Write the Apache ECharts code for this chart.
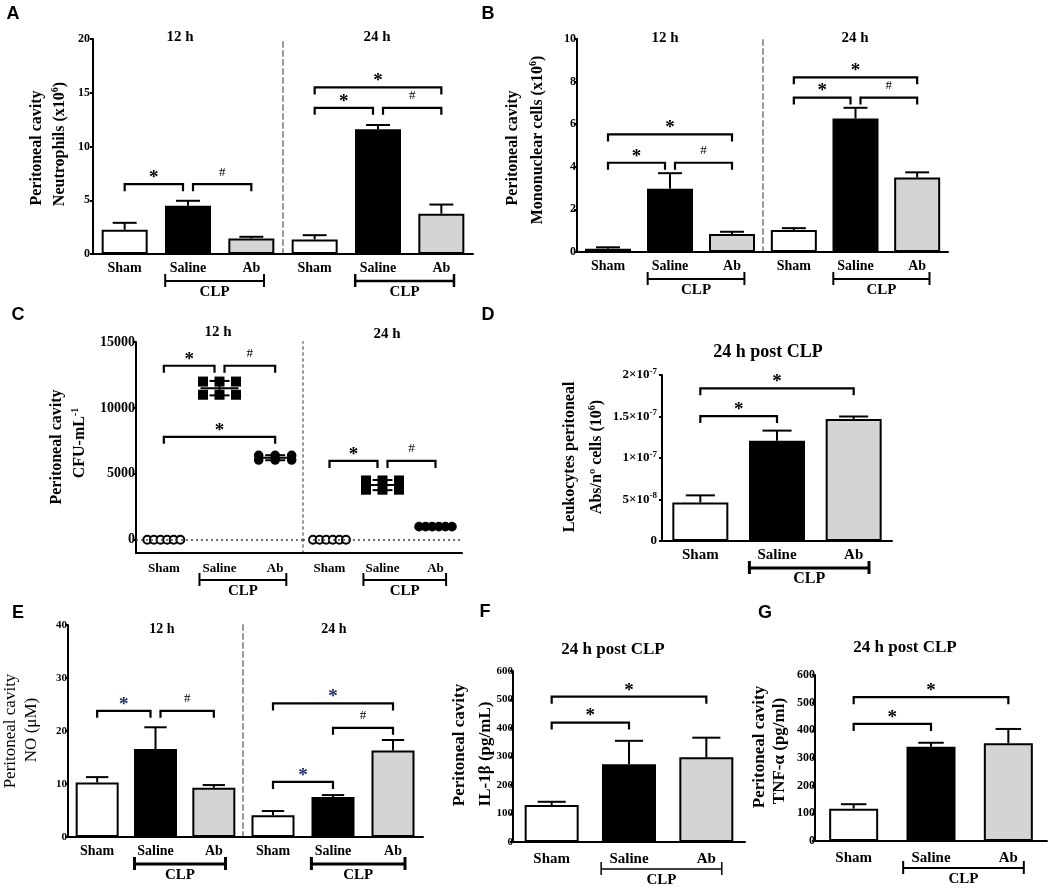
<!DOCTYPE html>
<html><head><meta charset="utf-8">
<script src="https://cdn.jsdelivr.net/npm/echarts@6/dist/echarts.min.js"></script>
<style>html,body{margin:0;padding:0;background:#fff}#c{width:1048px;height:889px}</style>
</head><body><div id="c"></div>
<script>
const SERIF = 'Liberation Serif';
const SANS = 'Liberation Sans';

// ---------- data ----------
const categories = ['Sham', 'Saline', 'Ab'];
const groupLabel = 'CLP';
const timeLabels = ['12 h', '24 h'];
const postTitle = '24 h post CLP';

// A: neutrophils
const neutrophils12Mean = [2.25, 4.5, 1.45];
const neutrophils12Sem = [0.65, 0.45, 0.15];
const neutrophils24Mean = [1.35, 11.6, 3.75];
const neutrophils24Sem = [0.4, 0.4, 0.85];
const neutrophilsAxis = [0, 20, 5];
const neutrophils12Brackets = [[0, 1, 6.5, '*'], [1, 2, 6.5, '#']];
const neutrophils24Brackets = [[0, 1, 13.6, '*'], [1, 2, 13.6, '#'], [0, 2, 15.5, '*']];

// B: mononuclear cells
const mono12Mean = [0.15, 2.97, 0.85];
const mono12Sem = [0.07, 0.73, 0.1];
const mono24Mean = [1.03, 6.27, 3.5];
const mono24Sem = [0.09, 0.5, 0.24];
const monoAxis = [0, 10, 2];
const mono12Brackets = [[0, 1, 4.19, '*'], [1, 2, 4.19, '#'], [0, 2, 5.52, '*']];
const mono24Brackets = [[0, 1, 7.25, '*'], [1, 2, 7.25, '#'], [0, 2, 8.2, '*']];

// C: CFU per mL (individual animals)
const cfu12Sham = [0, 0, 0, 0, 0, 0];
const cfu12Saline = [12000, 12000, 12000, 11000, 11000, 11000];
const cfu12Ab = [6400, 6400, 6400, 6050, 6050, 6050];
const cfu24Sham = [0, 0, 0, 0, 0, 0];
const cfu24Saline = [4500, 4500, 4500, 3800, 3800, 3800];
const cfu24Ab = [1000, 1000, 1000, 1000, 1000, 1000];
const cfuAxis = [-1000, 15000];
const cfuTicks = [0, 5000, 10000, 15000];
const cfu12Brackets = [[0, 1, 13200, '*'], [1, 2, 13200, '#'], [0, 2, 7810, '*']];
const cfu24Brackets = [[0, 1, 5980, '*'], [1, 2, 5980, '#']];

// D: leukocytes
const leukoMean = [4.63e-8, 1.207e-7, 1.469e-7];
const leukoSem = [0.87e-8, 1.23e-8, 0.31e-8];
const leukoAxis = [0, 2e-7, 5e-8];
const leukoBrackets = [[0, 1, 1.505e-7, '*'], [0, 2, 1.84e-7, '*']];

// E: NO
const no12Mean = [10.3, 16.6, 9.3];
const no12Sem = [1.0, 4.1, 0.5];
const no24Mean = [4.1, 7.56, 16.3];
const no24Sem = [0.8, 0.35, 2.0];
const noAxis = [0, 40, 10];
const no12Brackets = [[0, 1, 23.8, '*'], [1, 2, 23.8, '#']];
const no24Brackets = [[0, 1, 10.4, '*'], [1, 2, 20.6, '#'], [0, 2, 25.2, '*']];

// F: IL-1β
const il1bMean = [129.6, 273, 297];
const il1bSem = [11.5, 82, 69];
const il1bAxis = [0, 600, 100];
const il1bBrackets = [[0, 1, 419, '*'], [0, 2, 510, '*']];

// G: TNF-α
const tnfMean = [117, 340.6, 353];
const tnfSem = [16, 14.5, 52];
const tnfAxis = [0, 600, 100];
const tnfBrackets = [[0, 1, 423, '*'], [0, 2, 520, '*']];

// ---------- builders ----------
const FILL = ['#ffffff', '#000000', '#d4d4d4'];
const grids = [], xAxis = [], yAxis = [], series = [], graphic = [];

function addGrid(box, range, opt) {
  const gi = grids.length;
  grids.push({ left: box[0], top: box[1], width: box[2], height: box[3] });
  xAxis.push({
    type: 'category', gridIndex: gi, data: categories,
    axisLine: { onZero: false, lineStyle: { color: '#000', width: 2 } },
    axisTick: { alignWithLabel: true, length: 4, lineStyle: { color: '#000', width: 2 } },
    axisLabel: { interval: 0, color: '#000', fontFamily: SERIF, fontWeight: 'bold', fontSize: opt.xFont, margin: opt.xMargin || 7 },
    splitLine: { show: false }
  });
  const y = { type: 'value', gridIndex: gi, min: range[0], max: range[1], splitLine: { show: false } };
  if (range[2] != null) y.interval = range[2];
  if (opt.sep) {
    y.axisLine = { show: true, lineStyle: { color: '#999', width: 2, type: opt.sep } };
    y.axisTick = { show: false };
    y.axisLabel = { show: false };
  } else {
    y.axisLine = { show: true, lineStyle: { color: '#000', width: 2 } };
    y.axisTick = { show: true, length: 3, lineStyle: { color: '#000', width: 2 } };
    y.axisLabel = { color: '#000', fontFamily: SERIF, fontWeight: 'bold', fontSize: opt.yFont,
      margin: opt.yMargin != null ? opt.yMargin : 2, formatter: v => String(v) };
    if (opt.customTicks) {
      y.axisTick.customValues = opt.customTicks;
      y.axisLabel.customValues = opt.customTicks;
    }
    if (opt.labelExtra) Object.assign(y.axisLabel, opt.labelExtra);
  }
  yAxis.push(y);
  return gi;
}

function addBars(gi, means, sems, barW) {
  series.push({
    type: 'bar', xAxisIndex: gi, yAxisIndex: gi, barWidth: barW, silent: true,
    data: means.map((v, i) => ({ value: v, itemStyle: { color: FILL[i], borderColor: '#000', borderWidth: 2 } }))
  });
  series.push({
    type: 'custom', xAxisIndex: gi, yAxisIndex: gi, clip: false, silent: true, z: 3,
    data: means.map((v, i) => [i, v, sems[i]]),
    renderItem(params, api) {
      const b = api.coord([api.value(0), api.value(1)]);
      const t = api.coord([api.value(0), api.value(1) + api.value(2)]);
      const hw = barW * 0.26;
      return { type: 'group', children: [
        { type: 'line', shape: { x1: b[0], y1: b[1], x2: t[0], y2: t[1] }, style: { stroke: '#000', lineWidth: 2 } },
        { type: 'line', shape: { x1: t[0] - hw, y1: t[1], x2: t[0] + hw, y2: t[1] }, style: { stroke: '#000', lineWidth: 2 } }
      ] };
    }
  });
}

function addBrackets(gi, list, starColor) {
  const shared = list.map((b, k) => {
    const same = list.filter((c, m) => m !== k && c[2] === b[2]);
    return [same.some(c => c[0] === b[0] || c[1] === b[0]), same.some(c => c[0] === b[1] || c[1] === b[1])];
  });
  series.push({
    type: 'custom', xAxisIndex: gi, yAxisIndex: gi, clip: false, silent: true, z: 5,
    data: list.map(b => [b[0], b[1], b[2]]),
    renderItem(params, api) {
      const k = params.dataIndex;
      const p1 = api.coord([api.value(0), api.value(2)]);
      const p2 = api.coord([api.value(1), api.value(2)]);
      const x1 = p1[0] + (shared[k][0] ? 5 : 0), x2 = p2[0] - (shared[k][1] ? 5 : 0), y = p1[1];
      const lab = list[k][3];
      const star = lab === '*';
      return { type: 'group', children: [
        { type: 'polyline', shape: { points: [[x1, y + 7], [x1, y], [x2, y], [x2, y + 7]] }, style: { stroke: '#000', lineWidth: 2.2, fill: null } },
        { type: 'text', x: (x1 + x2) / 2, y: y - (star ? 6 : 12),
          style: { text: lab, fontFamily: SERIF, fontWeight: star ? 'bold' : 'normal', fontSize: star ? 19 : 13,
                   fill: star ? (starColor || '#000') : '#000', align: 'center', verticalAlign: 'middle' } }
      ] };
    }
  });
}

function addCLP(gi, lw, fs) {
  series.push({
    type: 'custom', xAxisIndex: gi, yAxisIndex: gi, clip: false, silent: true,
    data: [[1, 2]],
    renderItem(params, api) {
      const cs = params.coordSys;
      const base = cs.y + cs.height;
      const slot = cs.width / categories.length;
      const xa = api.coord([api.value(0), 0])[0] - 0.36 * slot;
      const xb = api.coord([api.value(1), 0])[0] + 0.2 * slot;
      const y = base + 27;
      const st = { stroke: '#000', lineWidth: lw };
      return { type: 'group', children: [
        { type: 'line', shape: { x1: xa, y1: y, x2: xb, y2: y }, style: st },
        { type: 'line', shape: { x1: xa, y1: y - 7, x2: xa, y2: y + 6 }, style: st },
        { type: 'line', shape: { x1: xb, y1: y - 7, x2: xb, y2: y + 6 }, style: st },
        { type: 'text', x: (xa + xb) / 2, y: base + 38,
          style: { text: groupLabel, fontFamily: SERIF, fontWeight: 'bold', fontSize: fs || 15, fill: '#000', align: 'center', verticalAlign: 'middle' } }
      ] };
    }
  });
}

function addDots(gi, groups) {
  const stats = groups.map((vals, i) => {
    const m = vals.reduce((a, b) => a + b, 0) / vals.length;
    const sd = Math.sqrt(vals.reduce((a, b) => a + (b - m) * (b - m), 0) / (vals.length - 1));
    return [i, m, sd];
  });
  series.push({
    type: 'custom', xAxisIndex: gi, yAxisIndex: gi, clip: false, silent: true, z: 3,
    data: stats,
    markLine: { silent: true, symbol: 'none', label: { show: false },
      lineStyle: { type: [2, 3], color: '#444', width: 1.6 }, data: [{ yAxis: 0 }] },
    renderItem(params, api) {
      const c = api.coord([api.value(0), api.value(1)]);
      const hi = api.coord([api.value(0), api.value(1) + api.value(2)]);
      const lo = api.coord([api.value(0), api.value(1) - api.value(2)]);
      const st = { stroke: '#000', lineWidth: 2 };
      return { type: 'group', children: [
        { type: 'line', shape: { x1: c[0] - 19, y1: c[1], x2: c[0] + 19, y2: c[1] }, style: st },
        { type: 'line', shape: { x1: c[0], y1: hi[1], x2: c[0], y2: lo[1] }, style: st },
        { type: 'line', shape: { x1: c[0] - 10, y1: hi[1], x2: c[0] + 10, y2: hi[1] }, style: st },
        { type: 'line', shape: { x1: c[0] - 10, y1: lo[1], x2: c[0] + 10, y2: lo[1] }, style: st }
      ] };
    }
  });
  const pts = [];
  groups.forEach((vals, ci) => {
    const counts = {}, seen = {};
    vals.forEach(v => { counts[v] = (counts[v] || 0) + 1; });
    vals.forEach(v => { const r = seen[v] || 0; seen[v] = r + 1; pts.push([ci, v, r, counts[v]]); });
  });
  series.push({
    type: 'custom', xAxisIndex: gi, yAxisIndex: gi, clip: false, silent: true, z: 4,
    data: pts,
    renderItem(params, api) {
      const ci = api.value(0), r = api.value(2), n = api.value(3);
      const c = api.coord([ci, api.value(1)]);
      const step = n > 1 ? Math.min(16.5, 33 / (n - 1)) : 0;
      const x = c[0] + (r - (n - 1) / 2) * step, y = c[1];
      if (ci === 1) return { type: 'rect', shape: { x: x - 5, y: y - 5, width: 10, height: 10 }, style: { fill: '#000' } };
      if (ci === 0) return { type: 'circle', shape: { cx: x, cy: y, r: 4 }, style: { fill: '#fff', stroke: '#000', lineWidth: 2 } };
      return { type: 'circle', shape: { cx: x, cy: y, r: 4.8 }, style: { fill: '#000' } };
    }
  });
}

function text(x, y, str, size, weight, family, extra) {
  const el = { type: 'text', x: x, y: y, silent: true,
    style: Object.assign({ text: str, fontSize: size, fontWeight: weight || 'bold', fontFamily: family || SERIF,
      fill: '#000', align: 'center', verticalAlign: 'middle' }, extra || {}) };
  graphic.push(el);
  return el;
}
function vtext(x, y, str, size, weight) {
  const el = text(x, y, str, size, weight, SERIF, {
    lineHeight: size + 4,
    rich: { sup: { fontSize: Math.round(size * 0.62), fontWeight: weight || 'bold', fontFamily: SERIF, verticalAlign: 'top', lineHeight: size + 4 } }
  });
  el.rotation = Math.PI / 2;
}

// ---------- Panel A ----------
let g;
g = addGrid([93, 39, 190, 215], neutrophilsAxis, { xFont: 14, yFont: 12, yMargin: 3 });
addBars(g, neutrophils12Mean, neutrophils12Sem, 46); addBrackets(g, neutrophils12Brackets); addCLP(g, 2);
g = addGrid([283, 39, 190, 215], neutrophilsAxis, { xFont: 14, sep: [5, 4] });
addBars(g, neutrophils24Mean, neutrophils24Sem, 46); addBrackets(g, neutrophils24Brackets); addCLP(g, 2.5);
text(13, 14, 'A', 18, 'bold', SANS);
text(180, 37, timeLabels[0], 15); text(377, 37, timeLabels[1], 15);
vtext(37, 148, 'Peritoneal cavity', 16); vtext(60, 144, 'Neutrophils (x10{sup|6})', 16);

// ---------- Panel B ----------
g = addGrid([577, 39, 186, 213], monoAxis, { xFont: 14, yFont: 12, yMargin: 1 });
addBars(g, mono12Mean, mono12Sem, 46); addBrackets(g, mono12Brackets); addCLP(g, 2);
g = addGrid([763, 39, 185, 213], monoAxis, { xFont: 14, sep: [5, 4] });
addBars(g, mono24Mean, mono24Sem, 46); addBrackets(g, mono24Brackets); addCLP(g, 2);
text(488, 14, 'B', 18, 'bold', SANS);
text(665, 38, timeLabels[0], 15); text(855, 38, timeLabels[1], 15);
vtext(513, 148, 'Peritoneal cavity', 16); vtext(538, 140, 'Mononuclear cells (x10{sup|6})', 16);

// ---------- Panel C ----------
g = addGrid([136, 342, 167, 211], cfuAxis, { xFont: 13, yFont: 14, yMargin: 1, xMargin: 9, customTicks: cfuTicks });
addDots(g, [cfu12Sham, cfu12Saline, cfu12Ab]); addBrackets(g, cfu12Brackets); addCLP(g, 2);
g = addGrid([303, 342, 159, 211], cfuAxis, { xFont: 13, xMargin: 9, sep: [2, 4] });
addDots(g, [cfu24Sham, cfu24Saline, cfu24Ab]); addBrackets(g, cfu24Brackets); addCLP(g, 2);
text(18, 315, 'C', 18, 'bold', SANS);
text(218, 332, timeLabels[0], 15); text(387, 334, timeLabels[1], 15);
vtext(57, 447, 'Peritoneal cavity', 16); vtext(80, 443, 'CFU-mL{sup|-1}', 16);

// ---------- Panel D ----------
g = addGrid([662, 375, 230, 166], leukoAxis, { xFont: 15, yFont: 13, yMargin: 5,
  labelExtra: {
    formatter: v => {
      if (v === 0) return '0';
      const e = Math.floor(Math.log10(v) + 1e-9);
      const m = +(v / Math.pow(10, e)).toPrecision(3);
      return m + '×10{sup|' + e + '}';
    },
    lineHeight: 16,
    rich: { sup: { fontSize: 9, fontWeight: 'bold', fontFamily: SERIF, verticalAlign: 'top', lineHeight: 16 } }
  } });
addBars(g, leukoMean, leukoSem, 56); addBrackets(g, leukoBrackets); addCLP(g, 3, 16);
text(488, 315, 'D', 18, 'bold', SANS);
text(768, 352, postTitle, 18);
vtext(570, 457, 'Leukocytes peritoneal', 16); vtext(597, 457, 'Abs/nº cells (10{sup|6})', 16);

// ---------- Panel E ----------
const eStar = '#1d2d6b';
g = addGrid([68, 625, 175, 212], noAxis, { xFont: 14, yFont: 11, yMargin: 1 });
addBars(g, no12Mean, no12Sem, 43); addBrackets(g, no12Brackets, eStar); addCLP(g, 3);
g = addGrid([243, 625, 180, 212], noAxis, { xFont: 14, sep: [5, 4] });
addBars(g, no24Mean, no24Sem, 43); addBrackets(g, no24Brackets, eStar); addCLP(g, 3);
text(18, 613, 'E', 18, 'bold', SANS);
text(162, 629, timeLabels[0], 14); text(334, 629, timeLabels[1], 14);
vtext(11, 731, 'Peritoneal cavity', 17, 'normal'); vtext(32, 730, 'NO (μM)', 17, 'normal');

// ---------- Panel F ----------
g = addGrid([513, 671, 232, 171], il1bAxis, { xFont: 15, yFont: 11, yMargin: 0, xMargin: 10 });
addBars(g, il1bMean, il1bSem, 54); addBrackets(g, il1bBrackets); addCLP(g, 1.5);
text(485, 612, 'F', 18, 'bold', SANS);
text(613, 650, postTitle, 17);
vtext(460, 745, 'Peritoneal cavity', 17); vtext(486, 754, 'IL-1β (pg/mL)', 17);

// ---------- Panel G ----------
g = addGrid([815, 675, 232, 166], tnfAxis, { xFont: 15, yFont: 12, yMargin: 0, xMargin: 10 });
addBars(g, tnfMean, tnfSem, 49); addBrackets(g, tnfBrackets); addCLP(g, 2);
text(765, 613, 'G', 18, 'bold', SANS);
text(905, 648, postTitle, 17);
vtext(760, 747, 'Peritoneal cavity', 17); vtext(780, 751, 'TNF-α (pg/ml)', 17);

const chart = echarts.init(document.getElementById('c'), null, { renderer: 'canvas' });
chart.setOption({
  animation: false,
  backgroundColor: '#fff',
  textStyle: { fontFamily: SERIF },
  grid: grids, xAxis: xAxis, yAxis: yAxis, series: series, graphic: graphic
});
</script></body></html>
